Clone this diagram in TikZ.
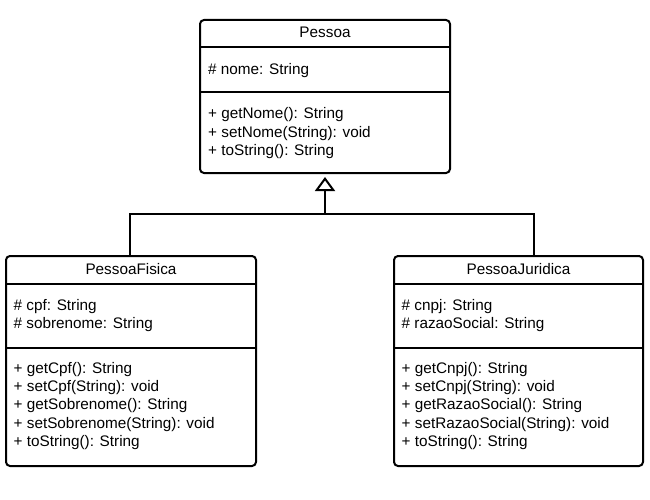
\documentclass[tikz,border=0pt]{standalone}
\usepackage{fontspec}
\setmainfont{Liberation Sans}
\usetikzlibrary{arrows.meta}
\begin{document}
\begin{tikzpicture}[x=1pt,y=-1pt,
  classbox/.style={draw, line width=2pt, rounded corners=4pt, inner sep=0pt, minimum width=#1},
  sep/.style={line width=2pt},
  txt/.style={anchor=base west, inner sep=0pt, font=\fontsize{15.3}{18}\selectfont},
  ttl/.style={anchor=base, inner sep=0pt, font=\fontsize{15.3}{18}\selectfont},
  link/.style={line width=2pt},
  inh/.style={line width=2pt, -{Triangle[open, length=14pt, width=20pt, line width=2pt]}, shorten >=3pt}]
\useasboundingbox (0,0) rectangle (650,500);
% ---- Pessoa
\node[classbox=250pt, minimum height=153pt] (pessoa) at (325,96.5) {};
\draw[sep] (200,47.5) -- (450,47.5);
\draw[sep] (200,92.5) -- (450,92.5);
\node[ttl] (pt) at (325,37.7) {Pessoa};
\node[txt] (pa1) at (208,75) {\# nome: String};
\foreach \t [count=\i] in {{+ getNome(): String},{+ setNome(String): void},{+ toString(): String}}
  \node[txt] (pm\i) at (208,{119+18.3*(\i-1)}) {\t};
% ---- PessoaFisica
\node[classbox=250pt, minimum height=210pt] (fisica) at (131,361) {};
\draw[sep] (6,284) -- (256,284);
\draw[sep] (6,348) -- (256,348);
\node[ttl] (ft) at (131,274) {PessoaFisica};
\foreach \t [count=\i] in {{\# cpf: String},{\# sobrenome: String}}
  \node[txt] (fa\i) at (13.5,{310+18.3*(\i-1)}) {\t};
\foreach \t [count=\i] in {{+ getCpf(): String},{+ setCpf(String): void},{+ getSobrenome(): String},{+ setSobrenome(String): void},{+ toString(): String}}
  \node[txt] (fm\i) at (13.5,{373.3+18.3*(\i-1)}) {\t};
% ---- PessoaJuridica
\node[classbox=249pt, minimum height=210pt] (juridica) at (518.5,361) {};
\draw[sep] (394,284) -- (643,284);
\draw[sep] (394,348) -- (643,348);
\node[ttl] (jt) at (518.5,274) {PessoaJuridica};
\foreach \t [count=\i] in {{\# cnpj: String},{\# razaoSocial: String}}
  \node[txt] (ja\i) at (401.5,{310+18.3*(\i-1)}) {\t};
\foreach \t [count=\i] in {{+ getCnpj(): String},{+ setCnpj(String): void},{+ getRazaoSocial(): String},{+ setRazaoSocial(String): void},{+ toString(): String}}
  \node[txt] (jm\i) at (401.5,{373.3+18.3*(\i-1)}) {\t};
% ---- generalization
\coordinate (junction) at (325,214);
\coordinate (jtop) at (534,256);
\coordinate (ftop) at (130,256);
\draw[link] (ftop) |- (junction) -| (jtop);
\draw[inh] (junction) -- (pessoa.south);
\end{tikzpicture}
\end{document}
